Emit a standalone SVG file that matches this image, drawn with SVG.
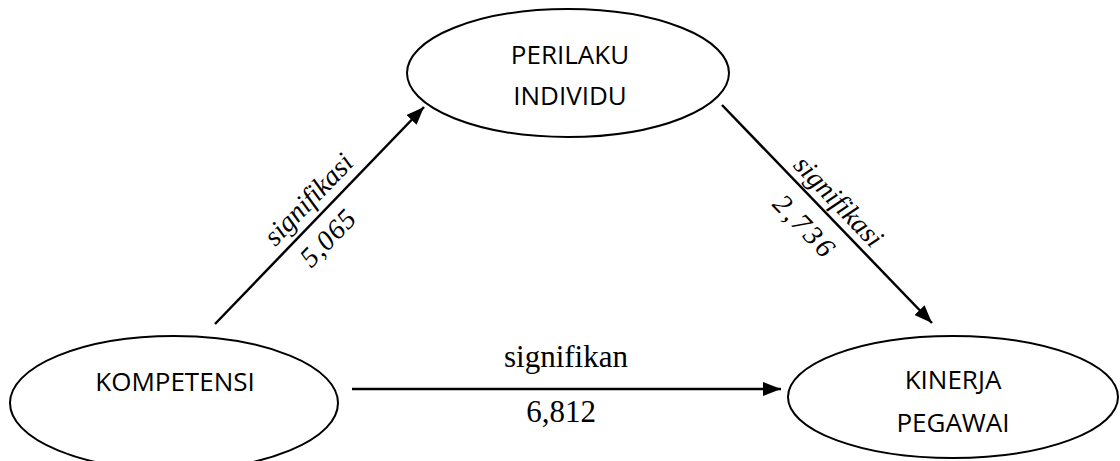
<svg xmlns="http://www.w3.org/2000/svg" width="1120" height="461" viewBox="0 0 1120 461">
  <style>
    .node { fill: #ffffff; stroke: #000000; stroke-width: 2; }
    .nlabel { font-family: "Open Sans", "Noto Sans", sans-serif; font-size: 26px; fill: #000000; text-anchor: middle; }
    .edge { stroke: #000000; stroke-width: 2.5; fill: none; marker-end: url(#arrow); }
    .elabel { font-family: "Liberation Serif", "Times New Roman", serif; font-size: 31px; fill: #000000; text-anchor: middle; }
    .ilabel { font-family: "Liberation Serif", "Times New Roman", serif; font-size: 28px; font-style: italic; fill: #000000; text-anchor: middle; }
  </style>
  <defs>
    <marker id="arrow" viewBox="0 0 18 14" refX="18" refY="7" markerWidth="18" markerHeight="14" markerUnits="userSpaceOnUse" orient="auto">
      <path d="M0,0 L18,7 L0,14 Z" fill="#000000"/>
    </marker>
  </defs>
  <rect width="1120" height="461" fill="#ffffff"/>

  <g id="connectors">
    <line class="edge" x1="215" y1="324" x2="424" y2="107"/>
    <line class="edge" x1="722" y1="105" x2="932" y2="323"/>
    <line class="edge" x1="352" y1="389" x2="781" y2="389"/>
    <!-- labels along the diagonal connectors -->
    <g transform="translate(319.5,215.5) rotate(-46.1)">
      <text class="ilabel" x="4" y="-10">signifikasi</text>
      <text class="ilabel" x="-10" y="31" letter-spacing="1">5,065</text>
    </g>
    <g transform="translate(827,214) rotate(46.1)">
      <text class="ilabel" x="-1" y="-8">signifikasi</text>
      <text class="ilabel" x="-6" y="34" letter-spacing="3">2,736</text>
    </g>
    <text class="elabel" x="566" y="367">signifikan</text>
    <text class="elabel" x="561" y="422">6,812</text>
  </g>

  <g id="perilaku-individu">
    <ellipse class="node" cx="568" cy="73" rx="161" ry="64"/>
    <text class="nlabel" x="570" y="64">PERILAKU</text>
    <text class="nlabel" x="570" y="105">INDIVIDU</text>
  </g>

  <g id="kompetensi">
    <ellipse class="node" cx="174" cy="403" rx="164" ry="67"/>
    <text class="nlabel" x="175" y="391">KOMPETENSI</text>
  </g>

  <g id="kinerja-pegawai">
    <ellipse class="node" cx="953" cy="397" rx="165" ry="61"/>
    <text class="nlabel" x="953" y="389">KINERJA</text>
    <text class="nlabel" x="953" y="432">PEGAWAI</text>
  </g>
</svg>
